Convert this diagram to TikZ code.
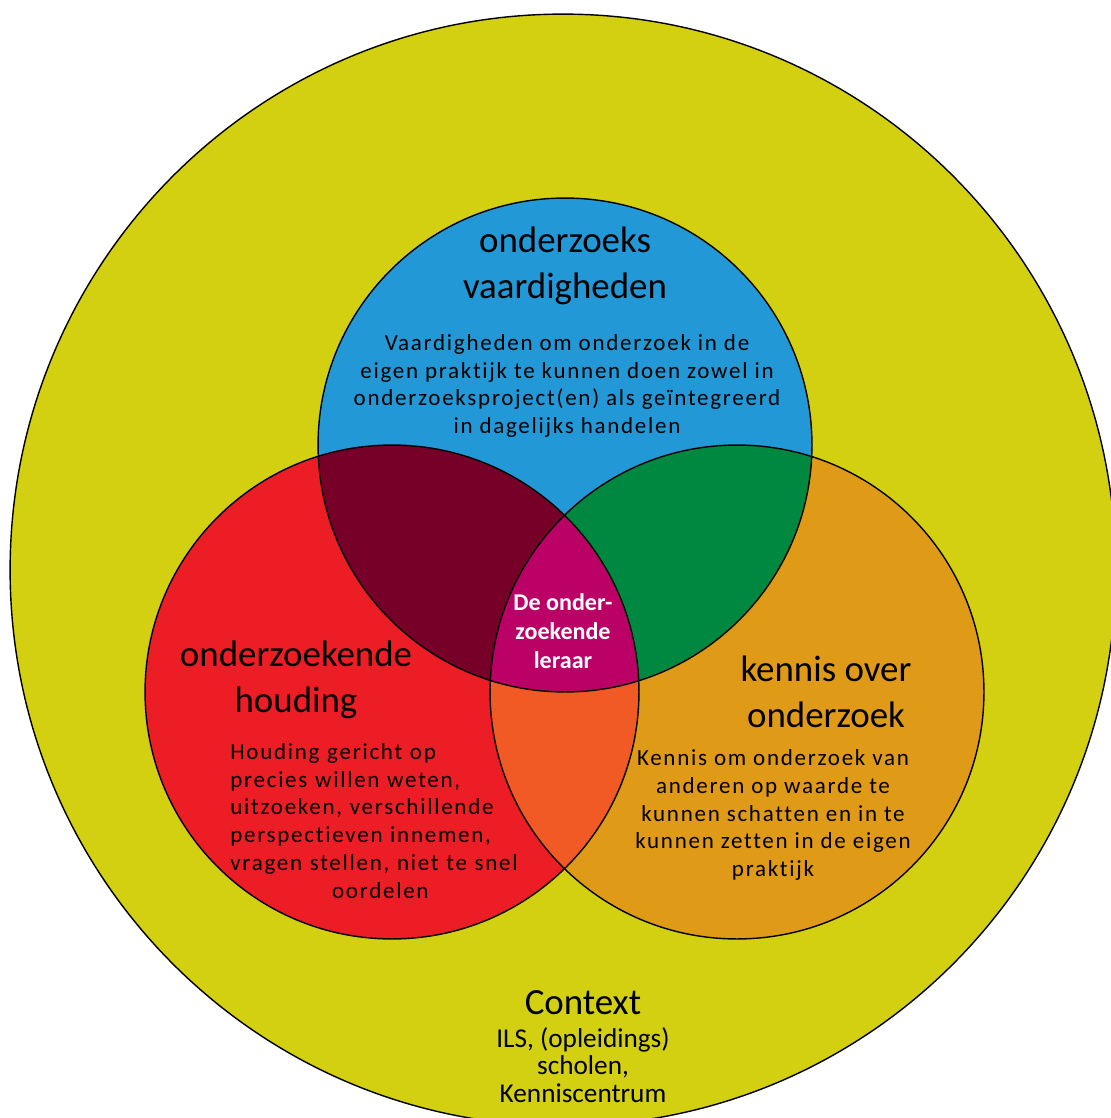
\documentclass[tikz,border=0pt]{standalone}
\usepackage{fontspec}
\setmainfont[Ligatures=NoCommon]{Carlito}
\newfontfamily\bodyfont[LetterSpace=7.5, Ligatures=NoCommon]{Carlito}

\definecolor{ctxyellow}{HTML}{D3D012}
\definecolor{skillblue}{HTML}{2398D6}
\definecolor{attred}{HTML}{EC1D25}
\definecolor{knoworange}{HTML}{DF9A17}
\definecolor{overmaroon}{HTML}{770028}
\definecolor{overgreen}{HTML}{008840}
\definecolor{overred}{HTML}{F15A24}
\definecolor{coremagenta}{HTML}{BB0066}

\begin{document}
\begin{tikzpicture}[x=0.02cm, y=-0.02cm]
    % Styles
    \tikzset{
        outline/.style={draw=black, line width=0.8pt},
        heading/.style={align=center, inner sep=0pt, font=\fontsize{21}{26.2}\selectfont},
        smallheading/.style={align=center, inner sep=0pt, font=\fontsize{15.5}{15.5}\selectfont},
        body/.style={align=center, inner sep=0pt, font=\bodyfont\fontsize{13.1}{15.9}\selectfont},
        core/.style={align=center, inner sep=0pt, text=white, font=\bfseries\fontsize{13.7}{16.5}\selectfont}
    }

    % Frame
    \clip (0,0) rectangle (1111,1118);

    % Centres
    \coordinate (ctx) at (563,570);
    \coordinate (skills) at (565,445);
    \coordinate (attitude) at (392,692);
    \coordinate (knowledge) at (737,692);

    % Context
    \fill[ctxyellow] (ctx) ellipse[x radius=11.06cm, y radius=11.12cm];
    \draw[outline] (ctx) ellipse[x radius=11.06cm, y radius=11.12cm];

    % Three circles
    \fill[skillblue] (skills) circle[radius=4.94cm];
    \fill[attred] (attitude) circle[radius=4.94cm];
    \fill[knoworange] (knowledge) circle[radius=4.94cm];

    % Overlaps
    \begin{scope}
        \clip (skills) circle[radius=4.94cm];
        \fill[overmaroon] (attitude) circle[radius=4.94cm];
        \fill[overgreen] (knowledge) circle[radius=4.94cm];
    \end{scope}
    \begin{scope}
        \clip (attitude) circle[radius=4.94cm];
        \fill[overred] (knowledge) circle[radius=4.94cm];
        \clip (knowledge) circle[radius=4.94cm];
        \fill[coremagenta] (skills) circle[radius=4.94cm];
    \end{scope}

    % Outlines
    \foreach \c in {skills,attitude,knowledge}
        \draw[outline] (\c) circle[radius=4.94cm];

    % Texts
    \node[heading] (skillstitle) at (565,266) {onderzoeks\\vaardigheden};
    \node[body] (skillstext) at (567,386) {Vaardigheden om onderzoek in de\\eigen praktijk te kunnen doen zowel in\\onderzoeksproject(en) als geïntegreerd\\in dagelijks handelen};

    \node[heading] (atttitle) at (296,680) {onderzoekende\\houding};
    \node[body, anchor=west, align=left, text width=6cm] (atttext) at (230,821) {Houding gericht op\\precies willen weten,\\uitzoeken, verschillende\\perspectieven innemen,\\vragen stellen, niet te snel\\\makebox[6cm]{oordelen}};

    \node[heading] (knowtitle) at (826,692) {kennis over\\onderzoek};
    \node[body] (knowtext) at (773,815) {Kennis om onderzoek van\\anderen op waarde te\\kunnen schatten en in te\\kunnen zetten in de eigen\\praktijk};

    \node[core] (coretext) at (563,631) {De onder-\\zoekende\\leraar};

    \node[heading] (ctxtitle) at (583,1003) {Context};
    \node[smallheading] (ctxtext) at (583,1065) {ILS, (opleidings)\\scholen,\\Kenniscentrum};
\end{tikzpicture}
\end{document}
